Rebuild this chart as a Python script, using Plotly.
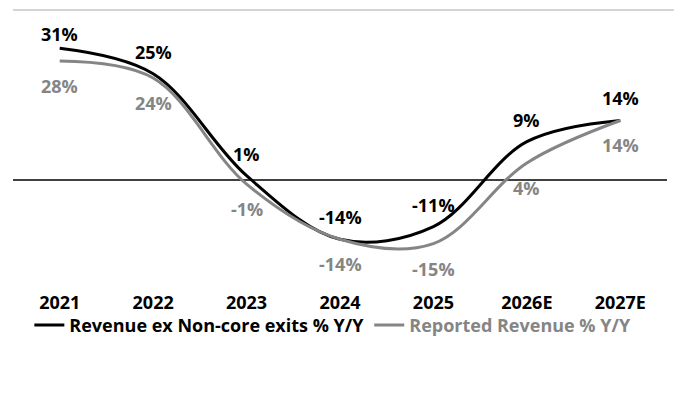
import plotly.graph_objects as go

# Year-over-year revenue growth, actuals and estimates
years = ["2021", "2022", "2023", "2024", "2025", "2026E", "2027E"]
revenue_ex_exits = [31, 25, 1, -14, -11, 9, 14]
reported_revenue = [28, 24, -1, -14, -15, 4, 14]

BLACK = "#000000"
GREY = "#858585"
FONT = "Open Sans"
SIZE = 18

fig = go.Figure()
fig.add_trace(go.Scatter(
    x=years, y=revenue_ex_exits, mode="lines",
    line=dict(color=BLACK, width=3, shape="spline", smoothing=1),
    name="Revenue ex Non-core exits % Y/Y",
))
fig.add_trace(go.Scatter(
    x=years, y=reported_revenue, mode="lines",
    line=dict(color=GREY, width=3, shape="spline", smoothing=1),
    name=f"<span style='color:{GREY}'>Reported Revenue % Y/Y</span>",
))

# value labels: black above the line, grey below (category index used for x)
for i, v in enumerate(revenue_ex_exits):
    fig.add_annotation(x=i, y=v, text=f"{v}%", showarrow=False,
                       yshift=14 if i == 0 else 22,
                       font=dict(family=FONT, size=SIZE, color=BLACK, weight="bold"))
for i, v in enumerate(reported_revenue):
    fig.add_annotation(x=i, y=v, text=f"{v}%", showarrow=False, yshift=-25,
                       font=dict(family=FONT, size=SIZE, color=GREY, weight="bold"))

# top gridline and zero baseline
fig.add_shape(type="line", xref="paper", yref="y", x0=0, x1=1.011, y0=40, y1=40,
              line=dict(color="#d4d4d4", width=2), layer="below")
fig.add_shape(type="line", xref="paper", yref="y", x0=0, x1=1, y0=0, y1=0,
              line=dict(color=BLACK, width=1.5), layer="below")

fig.update_layout(
    width=674, height=403,
    margin=dict(l=13, r=7, t=8, b=117),
    plot_bgcolor="white", paper_bgcolor="white",
    font=dict(family=FONT, size=SIZE, color=BLACK, weight="bold"),
    showlegend=True,
    legend=dict(orientation="h", x=0.025, y=-0.075, xanchor="left", yanchor="top",
                bgcolor="rgba(0,0,0,0)",
                font=dict(family=FONT, size=SIZE, color=BLACK, weight="bold"),
                itemwidth=30, tracegroupgap=0),
    xaxis=dict(type="category", range=[-0.5, 6.5], showgrid=False, zeroline=False,
               showline=False, ticks="", ticklabelstandoff=4,
               tickfont=dict(family=FONT, size=SIZE, color=BLACK, weight="bold")),
    yaxis=dict(range=[-25, 40.5], showticklabels=False, showgrid=False,
               zeroline=False, showline=False),
)

fig.write_html("out.html")
